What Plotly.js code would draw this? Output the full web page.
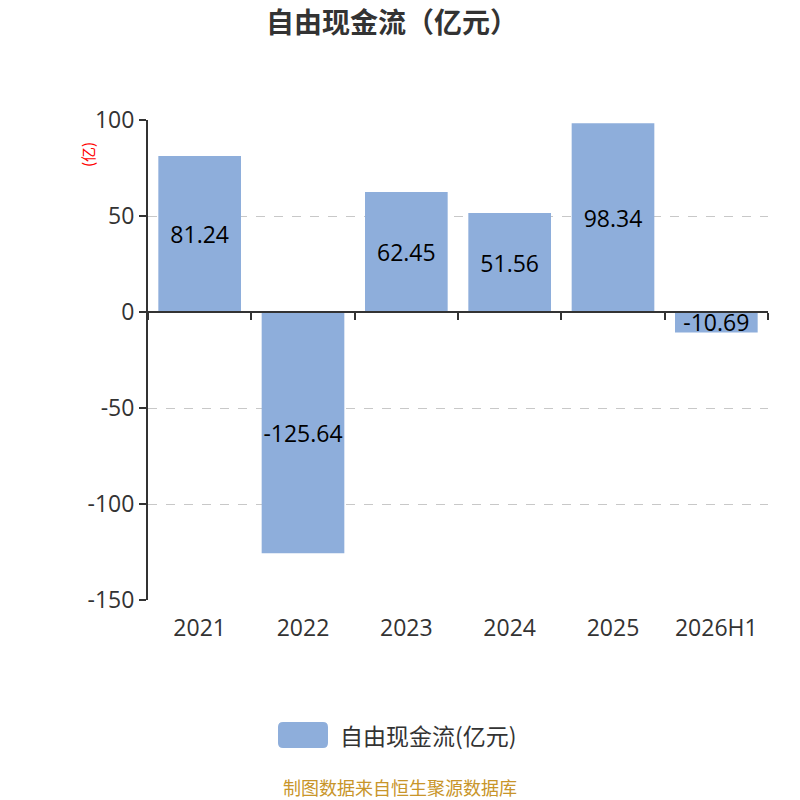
<!DOCTYPE html>
<html>
<head>
<meta charset="utf-8">
<script src="https://cdn.plot.ly/plotly-3.0.1.min.js"></script>
<style>html,body{margin:0;padding:0;background:#fff;}#chart{width:800px;height:800px;}</style>
</head>
<body>
<div id="chart"></div>
<script>
const categories = ['2021', '2022', '2023', '2024', '2025', '2026H1'];
const values = [81.24, -125.64, 62.45, 51.56, 98.34, -10.69];
const seriesName = '自由现金流(亿元)';
const chartTitle = '自由现金流（亿元）';
const yUnit = '(亿)';
const sourceNote = '制图数据来自恒生聚源数据库';
const yTicks = [-150, -100, -50, 0, 50, 100];
const yTickText = ['-150', '-100', '-50', '0', '50', '100'];

const FONT = '"Open Sans", "Noto Sans CJK SC", sans-serif';
const CJK = '"Noto Sans CJK SC", "Open Sans", sans-serif';

const trace = {
  type: 'bar',
  x: categories,
  y: values,
  name: seriesName,
  marker: { color: '#8eaedb' },
  text: values.map(v => v.toFixed(2)),
  textposition: 'inside',
  insidetextanchor: 'middle',
  constraintext: 'none',
  textangle: 0,
  textfont: { family: FONT, size: 23, color: '#000' },
  hoverinfo: 'none'
};

// rounded legend swatch in paper coords
const x0 = 0.2097, x1 = 0.2903, y0 = -0.3083, y1 = -0.2542, rx = 0.008, ry = 0.0104;
const swatchPath = `M ${x0+rx} ${y0} L ${x1-rx} ${y0} Q ${x1} ${y0} ${x1} ${y0+ry} L ${x1} ${y1-ry} Q ${x1} ${y1} ${x1-rx} ${y1} L ${x0+rx} ${y1} Q ${x0} ${y1} ${x0} ${y1-ry} L ${x0} ${y0+ry} Q ${x0} ${y0} ${x0+rx} ${y0} Z`;

const layout = {
  width: 800, height: 800,
  margin: { l: 148, r: 32, t: 120, b: 200 },
  paper_bgcolor: '#fff', plot_bgcolor: '#fff',
  showlegend: false,
  bargap: 0.2,
  title: {
    text: '<b>' + chartTitle + '</b>',
    font: { family: CJK, size: 28, color: '#333' },
    x: 0.49, xanchor: 'center', y: 1 - 23/800, yanchor: 'middle', yref: 'container'
  },
  xaxis: {
    type: 'category',
    categoryorder: 'array', categoryarray: categories,
    range: [-0.5, categories.length - 0.5],
    showline: false, showgrid: false, zeroline: false,
    ticks: '', ticklabelstandoff: 12,
    tickfont: { family: FONT, size: 23, color: '#333' }
  },
  xaxis2: {
    type: 'category', overlaying: 'x', matches: 'x',
    categoryorder: 'array', categoryarray: categories,
    range: [-0.5, categories.length - 0.5],
    anchor: 'free', position: 150/250, side: 'bottom',
    showline: true, linecolor: '#333', linewidth: 2,
    ticks: 'outside', tickson: 'boundaries', ticklen: 7, tickwidth: 2, tickcolor: '#333',
    showticklabels: false, showgrid: false, zeroline: false
  },
  yaxis: {
    range: [-150, 100],
    tickvals: yTicks,
    ticktext: yTickText,
    showline: true, linecolor: '#333', linewidth: 2,
    ticks: 'outside', ticklen: 7, tickwidth: 2, tickcolor: '#333',
    tickfont: { family: FONT, size: 23, color: '#333' },
    showgrid: true, gridcolor: '#c8c8c8', griddash: 'dash', gridwidth: 1,
    zeroline: false
  },
  shapes: [
    { type: 'path', xref: 'paper', yref: 'paper', path: swatchPath,
      fillcolor: '#8eaedb', line: { width: 0 } }
  ],
  annotations: [
    { text: yUnit, xref: 'paper', yref: 'paper', x: (87-148)/620, y: (600-155)/480,
      textangle: -90, showarrow: false, font: { family: CJK, size: 15, color: '#ff0000' },
      xanchor: 'center', yanchor: 'middle' },
    { text: seriesName, xref: 'paper', yref: 'paper', x: (338-148)/620, y: (600-735)/480,
      showarrow: false, xanchor: 'left', yanchor: 'middle',
      font: { family: CJK, size: 23, color: '#333' } },
    { text: sourceNote, xref: 'paper', yref: 'paper', x: (400-148)/620, y: (600-787)/480,
      showarrow: false, xanchor: 'center', yanchor: 'middle',
      font: { family: CJK, size: 18, color: '#c8952a' } }
  ]
};

const dummy = { type: 'scatter', x: categories, y: values.map(() => null), xaxis: 'x2', yaxis: 'y', showlegend: false, hoverinfo: 'none' };

Plotly.newPlot('chart', [trace, dummy], layout, { staticPlot: true, displayModeBar: false });
</script>
</body>
</html>
